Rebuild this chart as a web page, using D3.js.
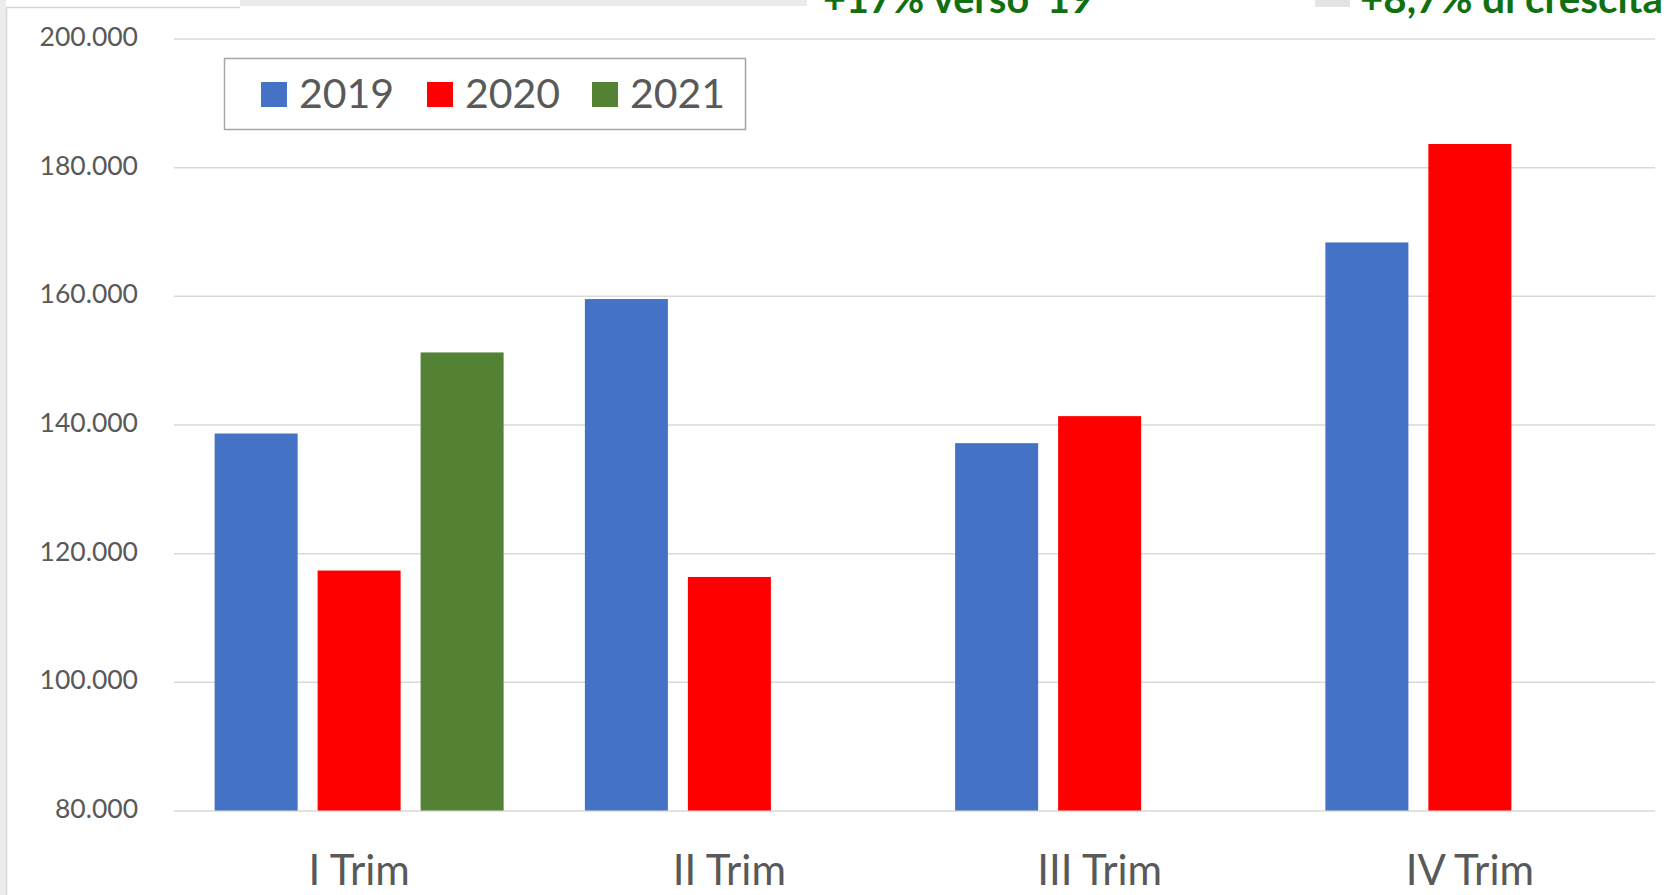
<!DOCTYPE html>
<html>
<head>
<meta charset="utf-8">
<script src="https://cdn.jsdelivr.net/npm/d3@7/dist/d3.min.js"></script>
<style>
  html, body { margin: 0; padding: 0; background: #ffffff; }
  svg { display: block; }
</style>
</head>
<body>
<svg id="chart" width="1666" height="895"></svg>
<script>
// ---- DATA ----
const categories = ["I Trim", "II Trim", "III Trim", "IV Trim"];
const seriesNames = ["2019", "2020", "2021"];
const values2019 = [138600, 159500, 137100, 168300];
const values2020 = [117300, 116300, 141300, 183600];
const values2021 = [151200, null, null, null];
const yTicks = [80000, 100000, 120000, 140000, 160000, 180000, 200000];
const annotations = ["+17% verso '19", "+8,7% di crescita"];

const seriesValues = [values2019, values2020, values2021];
const colors = ["#4472C4", "#FF0000", "#548235"];

// ---- LAYOUT ----
const W = 1666, H = 895;
const plot = { left: 174, right: 1655, top: 38.5, bottom: 810.5 };
const svg = d3.select("#chart");
const font = "Lato, 'Open Sans', 'DejaVu Sans', sans-serif";

// background fragments (page frame)
svg.append("rect").attr("x", 0).attr("y", 0).attr("width", 6).attr("height", H).attr("fill", "#ececec");
svg.append("line").attr("x1", 6.5).attr("x2", 6.5).attr("y1", 7).attr("y2", H).attr("stroke", "#d6d6d6").attr("stroke-width", 1.5);
svg.append("line").attr("x1", 6).attr("x2", 240).attr("y1", 7.5).attr("y2", 7.5).attr("stroke", "#d6d6d6").attr("stroke-width", 1.5);
svg.append("rect").attr("x", 240).attr("y", 0).attr("width", 567).attr("height", 6).attr("fill", "#ebebeb");
svg.append("rect").attr("x", 1315).attr("y", 0).attr("width", 35).attr("height", 7).attr("fill", "#e4e4e4");

// ---- SCALES ----
const x0 = d3.scaleBand().domain(categories).range([plot.left, plot.right]).paddingInner(0).paddingOuter(0);
const x1 = d3.scaleBand().domain(seriesNames).range([0, x0.bandwidth()]).paddingInner(0.194).paddingOuter(0.3945);
const y = d3.scaleLinear().domain([80000, 200000]).range([plot.bottom, plot.top]);

const locale = d3.formatLocale({ decimal: ",", thousands: ".", grouping: [3], currency: ["", "€"] });
const fmt = locale.format(",d");

// ---- GRIDLINES ----
const yAxis = d3.axisLeft(y).tickValues(yTicks).tickSize(-(plot.right - plot.left)).tickFormat(fmt).tickPadding(36);
const gy = svg.append("g").attr("transform", `translate(${plot.left},0)`).call(yAxis);
gy.select(".domain").remove();
gy.selectAll(".tick line").attr("stroke", "#d9d9d9").attr("stroke-width", 1.5);
gy.selectAll(".tick text")
  .attr("fill", "#595959")
  .style("font-family", font)
  .style("font-size", "26.5px")
  .attr("dy", "0.26em");

// ---- BARS ----
const rows = [];
categories.forEach((c, i) => {
  seriesNames.forEach((s, j) => {
    const v = seriesValues[j][i];
    if (v !== null && v !== undefined) rows.push({ c, s, v, color: colors[j] });
  });
});
svg.append("g").selectAll("rect").data(rows).join("rect")
  .attr("x", d => x0(d.c) + x1(d.s))
  .attr("width", x1.bandwidth())
  .attr("y", d => y(d.v))
  .attr("height", d => y(80000) - y(d.v))
  .attr("fill", d => d.color);

// ---- X AXIS LABELS ----
const xAxis = d3.axisBottom(x0).tickSize(0).tickPadding(0);
const gx = svg.append("g").attr("transform", `translate(0,${plot.bottom})`).call(xAxis);
gx.select(".domain").remove();
gx.selectAll(".tick text")
  .attr("fill", "#595959")
  .attr("y", 74.5)
  .attr("dy", 0)
  .style("font-family", font)
  .style("font-size", "42px");

// ---- LEGEND ----
const lg = svg.append("g");
lg.append("rect").attr("x", 224.5).attr("y", 58.5).attr("width", 521).attr("height", 71)
  .attr("fill", "#ffffff").attr("stroke", "#a6a6a6").attr("stroke-width", 1.5);
const legendX = [261, 427, 592];
seriesNames.forEach((s, j) => {
  lg.append("rect").attr("x", legendX[j]).attr("y", 82).attr("width", 26).attr("height", 25).attr("fill", colors[j]);
  lg.append("text").attr("x", legendX[j] + 38).attr("y", 108)
    .attr("fill", "#595959")
    .style("font-family", font)
    .style("font-size", "41px")
    .text(s);
});

// ---- TOP ANNOTATIONS (cut off at the top edge, as in the reference) ----
const annX = [823, 1360];
const annW = [270, 303];
annotations.forEach((t, i) => {
  svg.append("text").attr("x", annX[i]).attr("y", 12.5)
    .attr("fill", "#107010")
    .attr("textLength", annW[i])
    .attr("lengthAdjust", "spacingAndGlyphs")
    .style("font-family", font)
    .style("font-weight", "bold")
    .style("font-size", "40px")
    .text(t);
});
</script>
</body>
</html>
